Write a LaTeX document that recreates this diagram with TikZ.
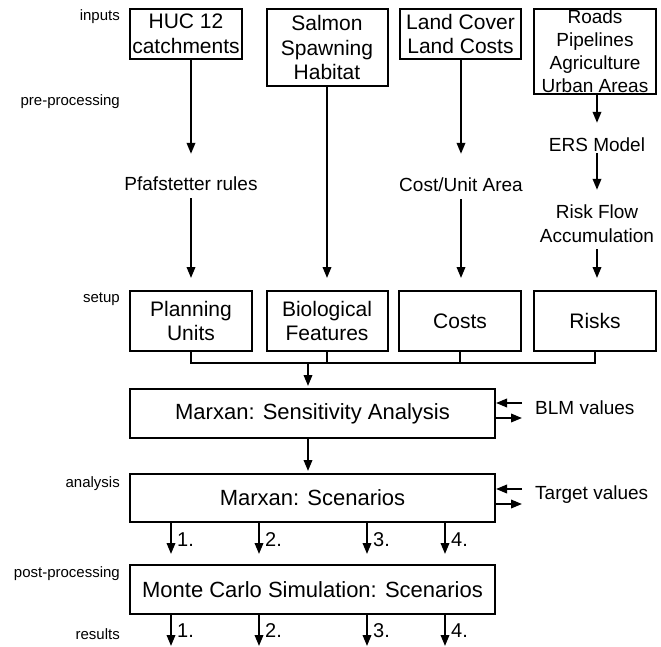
\documentclass[tikz,border=0pt]{standalone}
\usepackage{fontspec}
\setmainfont{Liberation Sans}
\usetikzlibrary{arrows.meta}
\begin{document}
\begin{tikzpicture}[x=1pt,y=-1pt,
  ln/.style={line width=2pt},
  arr/.style={ln,-{Triangle[length=11pt,width=8.5pt]}},
  box/.style={draw,line width=2pt,inner sep=0pt,align=center,font=\fontsize{21}{24.5}\selectfont},
  bigbox/.style={box,minimum width=365pt,font=\fontsize{22}{26}\selectfont},
  mid/.style={inner sep=0pt,align=center,font=\fontsize{19}{24}\selectfont},
  lbl/.style={inner sep=0pt,anchor=east,font=\fontsize{15}{18}\selectfont,text height=11pt,text depth=3pt},
  num/.style={inner sep=0pt,anchor=west,font=\fontsize{20}{24}\selectfont}]
\useasboundingbox (0,0) rectangle (661,647);

% row labels
\node[lbl] (linputs) at (120,17) {inputs};
\node[lbl] (lpre) at (120,102) {pre-processing};
\node[lbl] (lsetup) at (120,298) {setup};
\node[lbl] (lanalysis) at (120,483) {analysis};
\node[lbl] (lpost) at (120,573) {post-processing};
\node[lbl] (lresults) at (120,635) {results};

% inputs
\node[box,minimum width=112pt,minimum height=50pt] (huc) at (186,34) {HUC 12\\catchments};
\node[box,minimum width=121pt,minimum height=77pt] (salmon) at (327,47.5) {Salmon\\Spawning\\Habitat};
\node[box,minimum width=121pt,minimum height=50pt] (land) at (460.5,34) {Land Cover\\Land Costs};
\node[draw,line width=2pt,minimum width=122pt,minimum height=85pt,inner sep=0pt] (roads) at (595,51.5) {};
\node[mid,font=\fontsize{19}{23}\selectfont] (roadstxt) at (595,51.5) {Roads\\Pipelines\\Agriculture\\Urban Areas};

% pre-processing
\node[mid] (pfaf) at (191,184) {Pfafstetter rules};
\node[mid] (cua) at (461,185) {Cost/Unit Area};
\node[mid] (ers) at (597,145) {ERS Model};
\node[mid] (rfa) at (597,224) {Risk Flow\\Accumulation};

% setup
\node[box,minimum width=122pt,minimum height=60pt] (plan) at (191,321) {Planning\\Units};
\node[box,minimum width=121pt,minimum height=60pt] (bio) at (327,321) {Biological\\Features};
\node[box,minimum width=122pt,minimum height=60pt] (costs) at (460,321) {Costs};
\node[box,minimum width=122pt,minimum height=60pt] (risks) at (595,321) {Risks};

% analysis boxes
\node[bigbox,minimum height=49pt] (sa) at (312.5,413.5) {Marxan: Sensitivity Analysis};
\node[bigbox,minimum height=48pt] (scen) at (312.5,498) {Marxan: Scenarios};
\node[bigbox,minimum height=49pt] (mc) at (312.5,589.5) {Monte Carlo Simulation: Scenarios};

% input arrows
\draw[arr,shorten >=23pt] (huc.south -| pfaf.north) -- (pfaf.north);
\draw[arr,shorten <=7pt,shorten >=12pt] (pfaf.south) -- (plan.north -| pfaf.south);
\draw[arr,shorten >=12pt] (salmon.south) -- (bio.north);
\draw[arr,shorten >=24pt] (land.south -| cua.north) -- (cua.north);
\draw[arr,shorten <=7pt,shorten >=12pt] (cua.south) -- (costs.north -| cua.south);
\draw[arr,shorten >=15pt] (roads.south -| ers.north) -- (ers.north);
\draw[arr,shorten <=1pt,shorten >=15pt] (ers.south) -- (rfa.north);
\draw[arr,shorten <=6pt,shorten >=12pt] (rfa.south) -- (risks.north -| rfa.south);

% bus
\draw[ln] (plan.south) -- ++(0,11) -| (risks.south);
\draw[ln] (bio.south) -- ++(0,11);
\draw[ln] (costs.south) -- ++(0,11);
\coordinate (join) at (308,363);
\draw[arr,shorten >=2pt] (join) -- (join |- sa.north);
\draw[arr,shorten >=2pt] (sa.south -| join) -- (scen.north -| join);

% side inputs
\node[mid,anchor=west] (blm) at (535,408) {BLM values};
\coordinate (bin) at (522,403);
\coordinate (bout) at (522,418);
\draw[arr] (bin) -- (bin -| sa.east);
\draw[arr] (bout -| sa.east) -- (bout);
\node[mid,anchor=west] (tgt) at (535,495) {Target values};
\coordinate (tin) at (522,489);
\coordinate (tout) at (522,504);
\draw[arr] (tin) -- (tin -| scen.east);
\draw[arr] (tout -| scen.east) -- (tout);

% scenario arrows
\foreach \i/\x in {1/171,2/259,3/367,4/445}{
  \coordinate (k\i) at (\x,646);
  \draw[arr,shorten >=10pt] (scen.south -| k\i) -- (mc.north -| k\i);
  \node[num] (a\i) at (\x+6,540) {\i.};
  \draw[arr] (mc.south -| k\i) -- (k\i);
  \node[num] (b\i) at (\x+6,631) {\i.};
}
\end{tikzpicture}
\end{document}
